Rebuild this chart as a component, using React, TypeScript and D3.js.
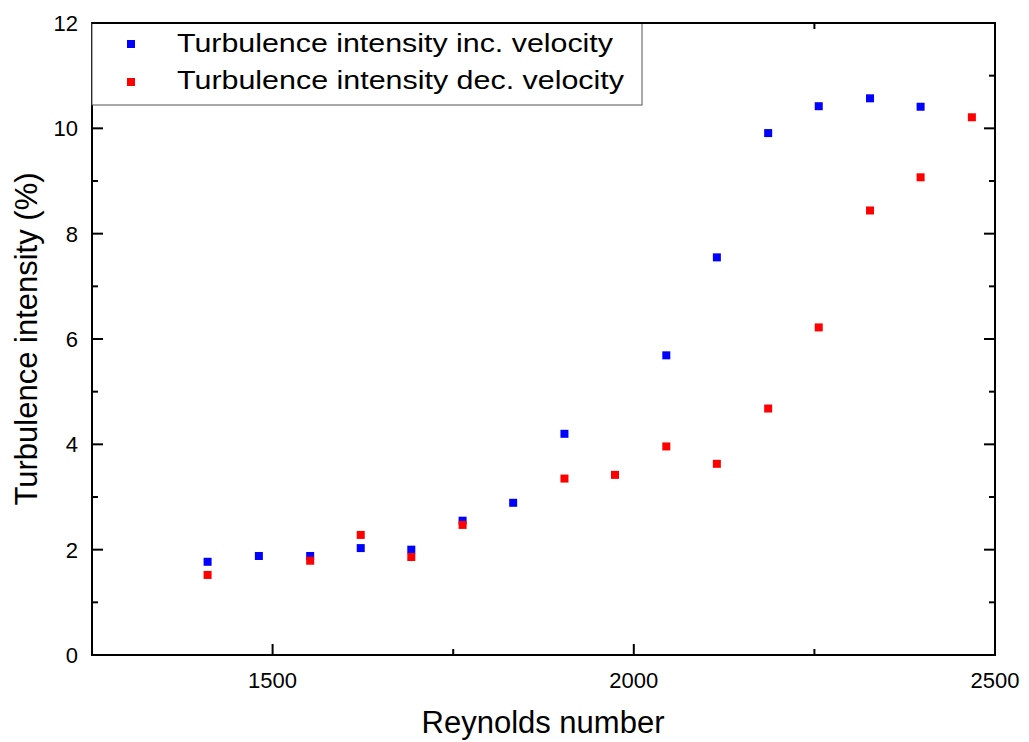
import * as d3 from "d3";
import React from "react";

const reynolds = [1410, 1481, 1552, 1622, 1692, 1763, 1833, 1904, 1974, 2045, 2115, 2186, 2256, 2327, 2397, 2468];
// null where no point was drawn
const incVelocity = [1.77, 1.88, 1.88, 2.03, 2.0, 2.55, 2.89, 4.2, null, 5.69, 7.55, 9.91, 10.42, 10.57, 10.41, null];
const decVelocity = [1.52, null, 1.79, 2.28, 1.86, 2.47, null, 3.35, 3.42, 3.96, 3.63, 4.68, 6.22, 8.44, 9.07, 10.21];
const seriesNames = ["Turbulence intensity inc. velocity", "Turbulence intensity dec. velocity"];
const seriesColors = ["#0000ff", "#ff0000"];
const xTicks = [1500, 2000, 2500];
const xMinorTicks = [1250, 1750, 2250];
const yTicks = [0, 2, 4, 6, 8, 10, 12];

const W = 1029;
const H = 742;
const left = 92, right = 995, top = 23, bottom = 655;
const font = "Liberation Sans, Arial, sans-serif";

const App = () => {
  const x = d3.scaleLinear([1250, 2500], [left, right]);
  const y = d3.scaleLinear([0, 12], [bottom, top]);
  const yMinor = d3.range(1, 12, 2);

  const series = [incVelocity, decVelocity];
  const s = 8;
  const legendWidths = [436, 447];

  return (
    <svg width={W} height={H} style={{ position: "absolute", left: 0, top: 0 }}>
      <rect width={W} height={H} fill="white" />
      {/* points */}
      {series.map((vals, si) => (
        <g key={si} fill={seriesColors[si]}>
          {vals.map((v, i) =>
            v == null ? null : (
              <rect key={i} x={x(reynolds[i]) - s / 2} y={y(v) - s / 2} width={s} height={s} />
            )
          )}
        </g>
      ))}
      {/* frame */}
      <rect x={left} y={top} width={right - left} height={bottom - top} fill="none" stroke="black" strokeWidth={2} />
      {/* ticks point inward on all four sides */}
      {xTicks.concat(xMinorTicks).map((t) => {
        const len = xTicks.includes(t) ? 11 : 6;
        return (
          <g key={"x" + t} stroke="black" strokeWidth={2}>
            <line x1={x(t)} x2={x(t)} y1={bottom} y2={bottom - len} />
            <line x1={x(t)} x2={x(t)} y1={top} y2={top + len} />
          </g>
        );
      })}
      {yTicks.concat(yMinor).map((t) => {
        const len = yTicks.includes(t) ? 11 : 6;
        return (
          <g key={"y" + t} stroke="black" strokeWidth={2}>
            <line x1={left} x2={left + len} y1={y(t)} y2={y(t)} />
            <line x1={right} x2={right - len} y1={y(t)} y2={y(t)} />
          </g>
        );
      })}
      {/* tick labels */}
      {xTicks.map((t) => (
        <text key={"xl" + t} x={x(t)} y={bottom + 33} textAnchor="middle" fontFamily={font} fontSize={22}>
          {t}
        </text>
      ))}
      {yTicks.map((t) => (
        <text key={"yl" + t} x={left - 14} y={y(t) + 8} textAnchor="end" fontFamily={font} fontSize={22}>
          {t}
        </text>
      ))}
      {/* axis titles */}
      <text x={543} y={733} textAnchor="middle" fontFamily={font} fontSize={31}>
        Reynolds number
      </text>
      <text
        transform={`translate(37,${(top + bottom) / 2}) rotate(-90)`}
        textAnchor="middle"
        fontFamily={font}
        fontSize={31}
      >
        Turbulence intensity (%)
      </text>
      {/* legend */}
      <rect x={left} y={top} width={550} height={82} fill="white" stroke="#555" strokeWidth={1} />
      {seriesNames.map((n, i) => (
        <g key={n}>
          <rect x={127} y={top + 21 + i * 38 - s / 2} width={s} height={s} fill={seriesColors[i]} />
          <text
            x={177}
            y={top + 29 + i * 37}
            fontFamily={font}
            fontSize={25}
            textLength={legendWidths[i]}
            lengthAdjust="spacingAndGlyphs"
          >
            {n}
          </text>
        </g>
      ))}
      <line x1={left} x2={right} y1={top} y2={top} stroke="black" strokeWidth={2} />
    </svg>
  );
};

export default App;
